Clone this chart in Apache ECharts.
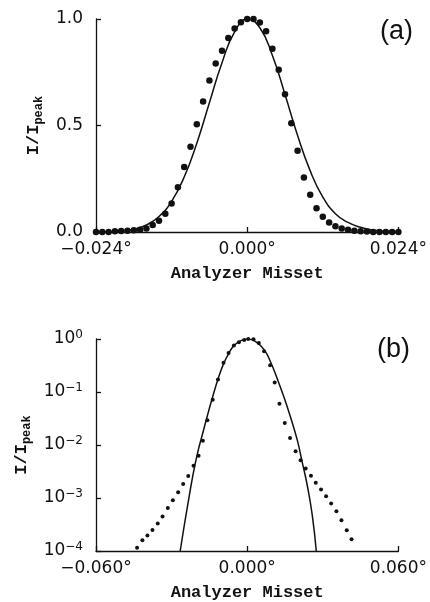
<!DOCTYPE html>
<html>
<head>
<meta charset="utf-8">
<script src="https://cdn.jsdelivr.net/npm/echarts@6/dist/echarts.min.js"></script>
<style>
html,body{margin:0;padding:0;background:#fff;}
#c{width:430px;height:602px;}
</style>
</head>
<body>
<div id="c"></div>
<script>
// ---- panel (a): linear scale ----
const topX = [-0.024,-0.023,-0.022,-0.021,-0.020,-0.019,-0.018,-0.017,-0.016,-0.015,
  -0.014,-0.013,-0.012,-0.011,-0.010,-0.009,-0.008,-0.007,-0.006,-0.005,
  -0.004,-0.003,-0.002,-0.001,0.000,0.001,0.002,0.003,0.004,0.005,
  0.006,0.007,0.008,0.009,0.010,0.011,0.012,0.013,0.014,0.015,
  0.016,0.017,0.018,0.019,0.020,0.021,0.022,0.023,0.024];
const topY = [0.0,0.0,0.0,0.003,0.005,0.006,0.008,0.011,0.017,0.033,
  0.053,0.086,0.134,0.21,0.305,0.40,0.506,0.613,0.711,0.791,
  0.851,0.911,0.955,0.985,1.0,1.0,0.984,0.943,0.86,0.762,
  0.647,0.511,0.381,0.256,0.175,0.112,0.072,0.045,0.027,0.016,
  0.011,0.006,0.003,0.002,0.0,0.0,0.0,0.0,0.0];
const topFitX = [-0.024,-0.022,-0.020,-0.018,-0.016,-0.014,-0.012,-0.010,-0.008,-0.006,
  -0.004,-0.002,0.000,0.002,0.004,0.006,0.008,0.010,0.012,0.014,
  0.016,0.018,0.020,0.022,0.024];
const topFitY = [0.0005,0.0016,0.005,0.0135,0.033,0.073,0.144,0.258,0.417,0.607,
  0.795,0.939,1.0,0.959,0.829,0.646,0.453,0.287,0.164,0.086,
  0.045,0.022,0.009,0.003,0.001];
const topXTicks = ['\u22120.024\u00b0','0.000\u00b0','0.024\u00b0'];
const topYTicks = ['0.0','0.5','1.0'];

// ---- panel (b): log scale ----
const botX = [-0.0437,-0.0416,-0.0396,-0.0376,-0.0355,-0.0336,-0.0315,-0.0295,-0.0274,-0.0254,
  -0.0234,-0.0213,-0.0193,-0.0176,-0.0158,-0.0137,-0.0116,-0.0094,-0.0074,-0.0053,
  -0.0033,-0.0012,0.0004,0.0025,0.0046,0.0067,0.0091,0.0109,0.0128,0.0149,
  0.0170,0.0192,0.0212,0.0232,0.0253,0.0272,0.0293,0.0313,0.0333,0.0354,
  0.0374,0.0395,0.0414];
const botY = [1.15e-4,1.6e-4,1.96e-4,2.5e-4,3.3e-4,4.5e-4,6.45e-4,9.1e-4,1.29e-3,1.84e-3,
  2.6e-3,4.07e-3,6.3e-3,0.012,0.0293,0.0711,0.173,0.356,0.547,0.75,
  0.864,0.96,1.0,0.99,0.84,0.587,0.321,0.151,0.06,0.0261,
  0.0135,7.6e-3,5.15e-3,3.6e-3,2.63e-3,1.95e-3,1.44e-3,1.08e-3,7.9e-4,5.6e-4,
  3.8e-4,2.47e-4,1.66e-4];
const botFitX = [-0.0266,-0.0251,-0.0236,-0.0216,-0.0196,-0.0176,-0.0157,-0.0137,-0.0116,-0.0094,
  -0.0072,-0.0051,-0.0025,0.0004,0.0030,0.0067,0.0094,0.0120,0.0146,0.0172,
  0.0199,0.0218,0.0238,0.0258,0.0274];
const botFitY = [1e-4,2.8e-4,7.4e-4,2.6e-3,7.4e-3,0.017,0.0372,0.0813,0.174,0.339,
  0.55,0.759,0.933,1.0,0.912,0.63,0.356,0.174,0.0794,0.0333,
  0.0122,4.8e-3,1.76e-3,4.8e-4,1e-4];
const botXTicks = ['\u22120.060\u00b0','0.000\u00b0','0.060\u00b0'];
const botYExp = ['0','\u22121','\u22122','\u22123','\u22124'];

const xName = 'Analyzer Misset';
const ink = '#111';
const numFont = 'DejaVu Sans';
const typeFont = 'Liberation Mono';

function zip(a,b){ return a.map((v,i)=>[v,b[i]]); }

const axisLineStyle = {show:true,onZero:false,lineStyle:{color:ink,width:1.3}};
const tickStyle = {show:true,inside:true,length:5,lineStyle:{color:ink,width:1.3}};
const yNameRich = {
  m:{fontFamily:typeFont,fontSize:17,fontWeight:'bold',color:ink,lineHeight:17,verticalAlign:'top'},
  s:{fontFamily:typeFont,fontSize:12,fontWeight:'bold',color:ink,lineHeight:12,padding:[8,0,0,0],verticalAlign:'top'}
};

const chart = echarts.init(document.getElementById('c'));
chart.setOption({
  animation:false,
  backgroundColor:'#fff',
  grid:[
    {left:96,top:19,width:304,height:213},
    {left:96,top:339,width:304,height:214}
  ],
  xAxis:[
    {gridIndex:0,type:'value',min:-0.024,max:0.024,interval:0.024,
     axisLine:axisLineStyle,axisTick:tickStyle,splitLine:{show:false},
     axisLabel:{margin:9,fontFamily:numFont,fontSize:17,color:ink,showMinLabel:true,showMaxLabel:true,
       formatter:(v)=>{const i=Math.round((v+0.024)/0.024);return topXTicks[i];}},
     name:xName,nameLocation:'middle',nameGap:33,
     nameTextStyle:{fontFamily:typeFont,fontSize:17,fontWeight:'bold',color:ink}},
    {gridIndex:1,type:'value',min:-0.06,max:0.06,interval:0.06,
     axisLine:axisLineStyle,axisTick:tickStyle,splitLine:{show:false},
     axisLabel:{margin:9,fontFamily:numFont,fontSize:17,color:ink,showMinLabel:true,showMaxLabel:true,
       formatter:(v)=>{const i=Math.round((v+0.06)/0.06);return botXTicks[i];}},
     name:xName,nameLocation:'middle',nameGap:33,
     nameTextStyle:{fontFamily:typeFont,fontSize:17,fontWeight:'bold',color:ink}}
  ],
  yAxis:[
    {gridIndex:0,type:'value',min:0,max:1,interval:0.5,
     axisLine:axisLineStyle,axisTick:tickStyle,splitLine:{show:false},
     axisLabel:{margin:13,fontFamily:numFont,fontSize:17,color:ink,
       formatter:(v)=>topYTicks[Math.round(v/0.5)]},
     name:'{m|I/I}{s|peak}',nameLocation:'middle',nameGap:48,nameRotate:90,
     nameTextStyle:{rich:yNameRich}},
    {gridIndex:1,type:'log',logBase:10,min:1e-4,max:1,
     axisLine:axisLineStyle,axisTick:tickStyle,splitLine:{show:false},
     minorTick:{show:false},
     axisLabel:{margin:13,color:ink,
       formatter:(v)=>{const e=Math.round(-Math.log10(v));return '{b|10}{p|'+botYExp[e]+'}';},
       rich:{
         b:{fontFamily:numFont,fontSize:17,color:ink,lineHeight:17,verticalAlign:'bottom'},
         p:{fontFamily:numFont,fontSize:12,color:ink,lineHeight:12,padding:[0,0,7,0],verticalAlign:'bottom'}
       }},
     name:'{m|I/I}{s|peak}',nameLocation:'middle',nameGap:62,nameRotate:90,
     nameTextStyle:{rich:yNameRich}}
  ],
  series:[
    {type:'line',xAxisIndex:0,yAxisIndex:0,data:zip(topFitX,topFitY),smooth:true,showSymbol:false,
     lineStyle:{color:ink,width:1.5},silent:true},
    {type:'scatter',xAxisIndex:0,yAxisIndex:0,data:zip(topX,topY),symbolSize:6.5,
     itemStyle:{color:ink,opacity:1}},
    {type:'line',xAxisIndex:1,yAxisIndex:1,data:zip(botFitX,botFitY),smooth:true,showSymbol:false,
     lineStyle:{color:ink,width:1.5},silent:true},
    {type:'scatter',xAxisIndex:1,yAxisIndex:1,data:zip(botX,botY),symbolSize:4,
     itemStyle:{color:ink,opacity:1}}
  ],
  graphic:[
    {type:'text',left:380,top:18,style:{text:'(a)',fontFamily:'Liberation Sans',fontSize:27,fill:ink}},
    {type:'text',left:377,top:336,style:{text:'(b)',fontFamily:'Liberation Sans',fontSize:27,fill:ink}}
  ]
});
</script>
</body>
</html>
